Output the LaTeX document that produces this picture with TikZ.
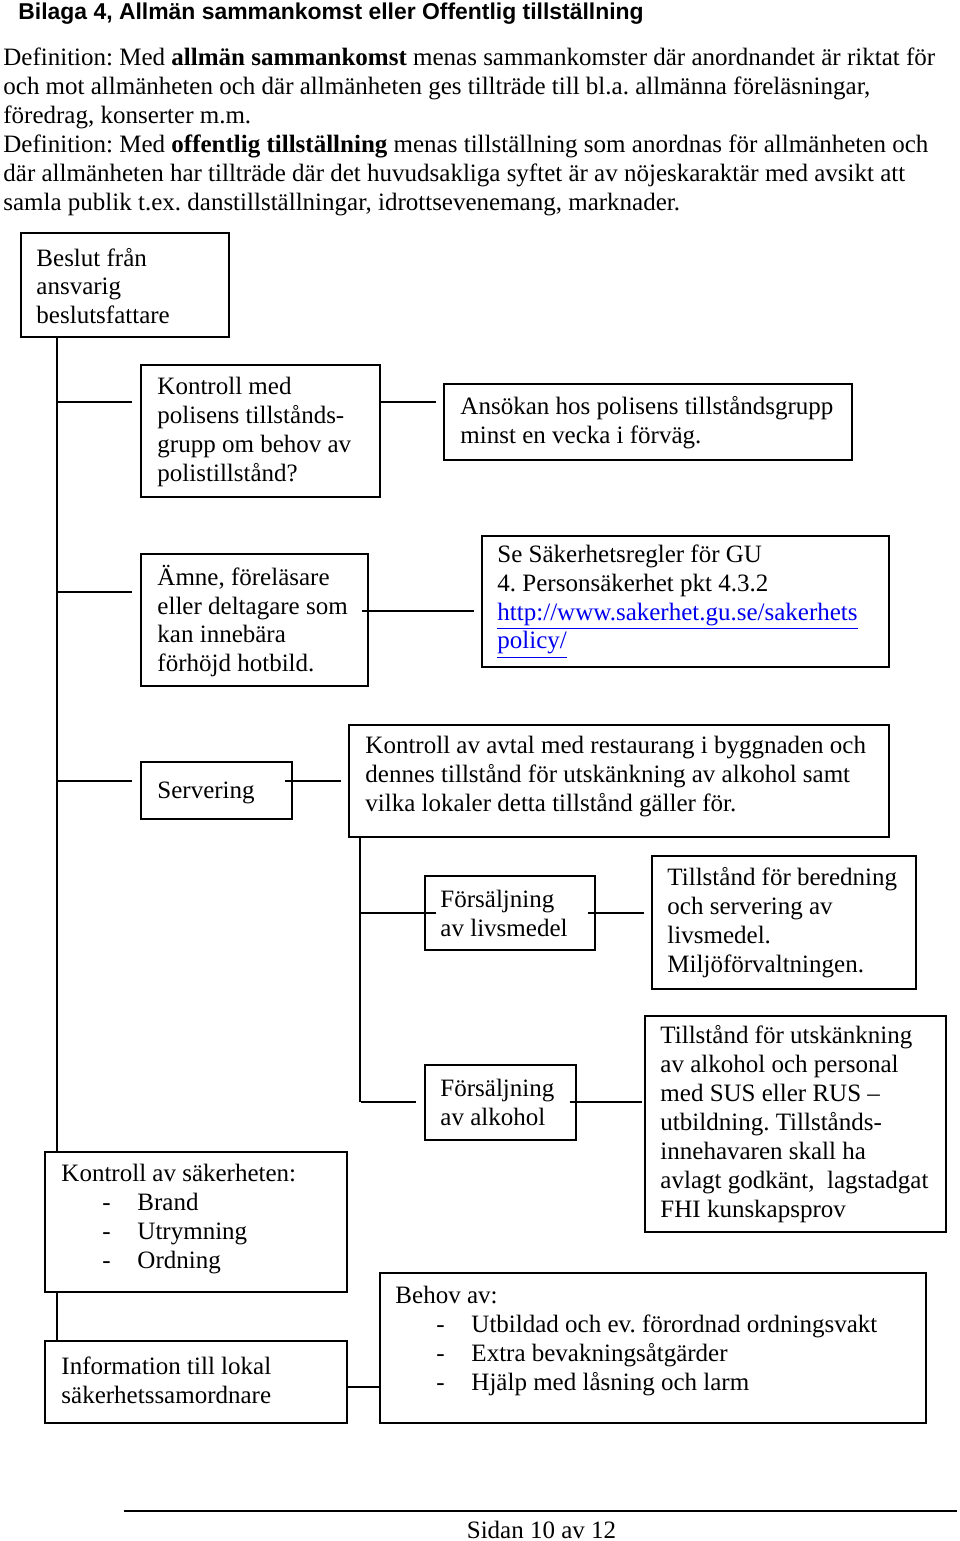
\documentclass[tikz,border=0pt]{standalone}
\usepackage{fontspec}
\setmainfont{Liberation Serif}
\newfontfamily\headfont{Liberation Sans}
\usetikzlibrary{calc}
\newdimen\pxunit \pxunit=0.48pt
\definecolor{linkblue}{RGB}{0,0,238}
\frenchspacing
\tikzset{
  bx/.style={draw, line width=0.9pt, inner sep=0pt},
  tx/.style={inner sep=0pt, anchor=west, align=left, font=\fontsize{12}{13.9}\selectfont},
  ln/.style={line width=1pt},
}
\newcommand\mkbox[5]{\node[bx, minimum width={(#4-#2)*\pxunit}, minimum height={(#5-#3)*\pxunit}] (#1) at ({(#2+#4)/2},{(#3+#5)/2}) {};}
\newcommand\dsh{\hspace*{41\pxunit}\makebox[35\pxunit][l]{-}}
\begin{document}
\begin{tikzpicture}[x=0.48pt,y=-0.48pt]
\useasboundingbox (0,0) rectangle (960,1541);
% header
\node[anchor=base west, inner sep=0pt, font=\headfont\bfseries\fontsize{11}{13}\selectfont] (head) at (18,19) {Bilaga 4, Allmän sammankomst eller Offentlig tillställning};
\node[anchor=north west, inner sep=0pt, align=left, font=\fontsize{12}{13.9}\selectfont] (def) at (3,47.5) {Definition: Med \textbf{allmän sammankomst} menas sammankomster där anordnandet är riktat för\\
och mot allmänheten och där allmänheten ges tillträde till bl.a. allmänna föreläsningar,\\
föredrag, konserter m.m.\\
Definition: Med \textbf{offentlig tillställning} menas tillställning som anordnas för allmänheten och\\
där allmänheten har tillträde där det huvudsakliga syftet är av nöjeskaraktär med avsikt att\\
samla publik t.ex. danstillställningar, idrottsevenemang, marknader.};
% boxes
\mkbox{b1}{21}{233}{229}{337}
\node[tx] (t1) at ([xshift=16\pxunit,yshift=-0.5pt]b1.west) {Beslut från\\ansvarig\\beslutsfattare};
\mkbox{b2}{141}{365}{380}{497}
\node[tx] (t2) at ([xshift=17\pxunit,yshift=-0.5pt]b2.west) {Kontroll med\\polisens tillstånds-\\grupp om behov av\\polistillstånd?};
\mkbox{b3}{444}{384}{852}{460}
\node[tx] (t3) at ([xshift=17\pxunit,yshift=-0.5pt]b3.west) {Ansökan hos polisens tillståndsgrupp\\minst en vecka i förväg.};
\mkbox{b4}{141}{554}{368}{686}
\node[tx] (t4) at ([xshift=17\pxunit,yshift=-0.5pt]b4.west) {Ämne, föreläsare\\eller deltagare som\\kan innebära\\förhöjd hotbild.};
\mkbox{b5}{482}{536}{889}{667}
\node[tx] (t5) at ([xshift=16\pxunit]b5.west) {Se Säkerhetsregler för GU\\4. Personsäkerhet pkt 4.3.2\\\textcolor{linkblue}{\underline{http://www.sakerhet.gu.se/sakerhets}}\\\textcolor{linkblue}{\underline{policy/}}};
\mkbox{b6}{141}{762}{292}{819}
\node[tx] (t6) at ([xshift=17\pxunit,yshift=-1pt]b6.west) {Servering};
\mkbox{b7}{349}{725}{889}{837}
\node[tx] (t7) at ([xshift=17\pxunit,yshift=2pt]b7.west) {Kontroll av avtal med restaurang i byggnaden och\\dennes tillstånd för utskänkning av alkohol samt\\vilka lokaler detta tillstånd gäller för.};
\mkbox{b8}{425}{876}{595}{950}
\node[tx] (t8) at ([xshift=16\pxunit]b8.west) {Försäljning\\av livsmedel};
\mkbox{b9}{652}{856}{916}{989}
\node[tx] (t9) at ([xshift=16\pxunit]b9.west) {Tillstånd för beredning\\och servering av\\livsmedel.\\Miljöförvaltningen.};
\mkbox{b10}{425}{1065}{576}{1140}
\node[tx] (t10) at ([xshift=16\pxunit]b10.west) {Försäljning\\av alkohol};
\mkbox{b11}{645}{1016}{946}{1232}
\node[tx] (t11) at ([xshift=16\pxunit]b11.west) {Tillstånd för utskänkning\\av alkohol och personal\\med SUS eller RUS –\\utbildning. Tillstånds-\\innehavaren skall ha\\avlagt godkänt,\ \ lagstadgat\\FHI kunskapsprov};
\mkbox{b12}{45}{1152}{347}{1292}
\node[tx] (t12) at ([xshift=17\pxunit,yshift=1.5pt]b12.west) {Kontroll av säkerheten:\\\dsh Brand\\\dsh Utrymning\\\dsh Ordning};
\mkbox{b13}{45}{1341}{347}{1423}
\node[tx] (t13) at ([xshift=17\pxunit,yshift=1pt]b13.west) {Information till lokal\\säkerhetssamordnare};
\mkbox{b14}{380}{1273}{926}{1423}
\node[tx] (t14) at ([xshift=16\pxunit,yshift=3.5pt]b14.west) {Behov av:\\\dsh Utbildad och ev. förordnad ordningsvakt\\\dsh Extra bevakningsåtgärder\\\dsh Hjälp med låsning och larm};
% connectors
\coordinate (t0) at ([xshift=37\pxunit]b1.south west);
\draw[ln] (t0) -- (t0 |- b12.north);
\draw[ln] (b12.south -| t0) -- (b13.north -| t0);
\coordinate (j1) at (58,402);
\draw[ln, shorten >=8\pxunit] (j1) -- (j1 -| b2.west);
\draw[ln, shorten >=7\pxunit] (j1 -| b2.east) -- (j1 -| b3.west);
\coordinate (j2) at (58,592);
\draw[ln, shorten >=8\pxunit] (j2) -- (j2 -| b4.west);
\coordinate (r2) at (362,611);
\draw[ln, shorten >=7\pxunit] (r2) -- (r2 -| b5.west);
\coordinate (j3) at (58,781);
\draw[ln, shorten >=8\pxunit] (j3) -- (j3 -| b6.west);
\coordinate (r3) at (285,781);
\draw[ln, shorten >=7\pxunit] (r3) -- (r3 -| b7.west);
\coordinate (s0) at ([xshift=12\pxunit]b7.south west);
\coordinate (j4) at (361,913);
\coordinate (j5) at (361,1102);
\draw[ln] (s0) -- (s0 |- j5);
\draw[ln, shorten >=-12\pxunit] (j4) -- (j4 -| b8.west);
\coordinate (r4) at (588,913);
\draw[ln, shorten >=7\pxunit] (r4) -- (r4 -| b9.west);
\draw[ln, shorten >=8\pxunit] (j5) -- (j5 -| b10.west);
\coordinate (r5) at (570,1102);
\draw[ln, shorten >=2\pxunit] (r5) -- (r5 -| b11.west);
\coordinate (r6) at (347,1387);
\draw[ln] (r6 -| b13.east) -- (r6 -| b14.west);
% footer
\coordinate (f1) at (124,1511);
\coordinate (f2) at (957,1511);
\draw[line width=0.8pt] (f1) -- (f2);
\node[anchor=base, inner sep=0pt, font=\fontsize{12}{13.9}\selectfont] (foot) at (541.5,1538) {Sidan 10 av 12};
\end{tikzpicture}
\end{document}
